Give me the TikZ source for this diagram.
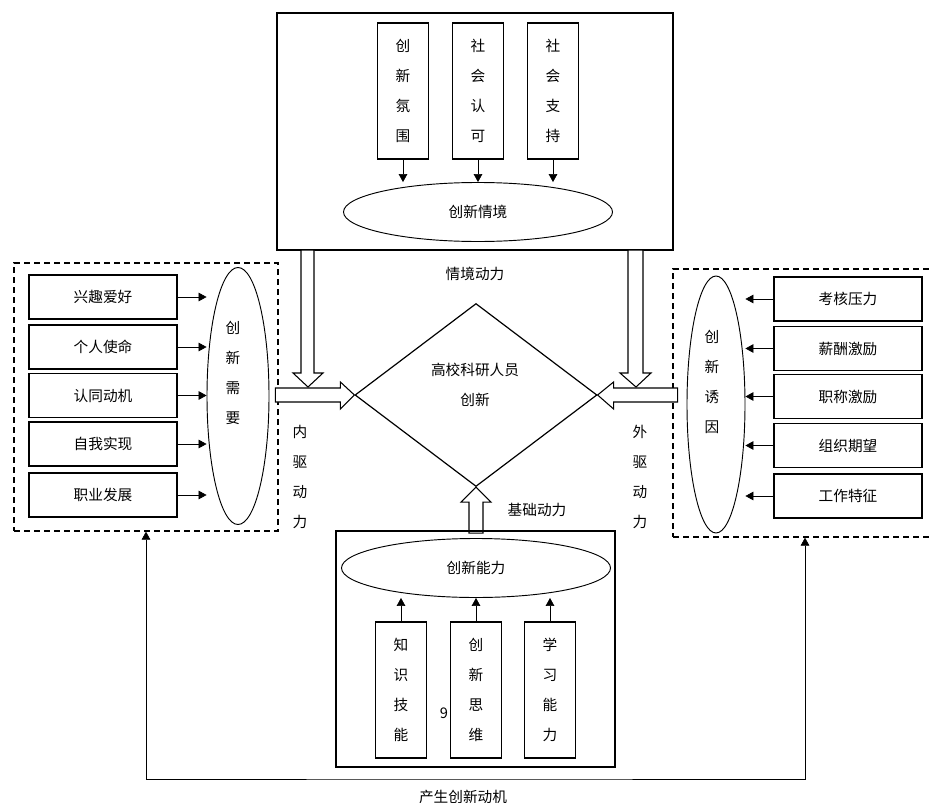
\documentclass[tikz,border=0pt]{standalone}
\usepackage{fontspec}
\setmainfont{Noto Sans CJK SC}
\usetikzlibrary{shapes.geometric,arrows.meta}

\tikzset{
  box/.style={draw,line width=0.9pt,minimum width=111pt,minimum height=33pt,inner sep=0pt},
  vbox/.style={draw,line width=0.9pt,minimum width=38.5pt,minimum height=102pt,inner sep=0pt,
    align=center,font=\fontsize{11}{22.5}\selectfont},
  oval/.style={draw,ellipse,line width=0.7pt,inner sep=0pt},
  vtext/.style={align=center,font=\fontsize{11}{22.5}\selectfont},
  arr/.style={-{Triangle[length=6pt,width=6.5pt]},line width=0.5pt},
  hollow/.style={draw,fill=white,line width=0.8pt},
  dashbox/.style={draw,line width=1pt,dash pattern=on 4.5pt off 3pt,
    minimum width=198pt,minimum height=201pt,inner sep=0pt}
}

\begin{document}
\begin{tikzpicture}[x=0.75pt,y=-0.75pt,font=\fontsize{11}{13}\selectfont]
\clip (0,0) rectangle (929,803);

% situation
\draw[line width=0.9pt] (277,13) rectangle (673,250);
\node[vbox] (c1) at (403,91) {创\\新\\氛\\围};
\node[vbox] (c2) at (478,91) {社\\会\\认\\可};
\node[vbox] (c3) at (553,91) {社\\会\\支\\持};
\node[oval,minimum width=201.75pt,minimum height=44.25pt] (sit) at (478,212) {创新情境};
\foreach \i in {1,2,3}
  \draw[arr] (c\i.south) -- (c\i.south |- sit.north);
\node (sitf) at (475,274) {情境动力};

% need
\node[dashbox] (inner) at (146,397) {};
\node[oval,minimum width=46.5pt,minimum height=192.75pt] (need) at (238,396) {};
\node[vtext] (needt) at (233,373) {创\\新\\需\\要};
\foreach \t/\y [count=\i] in {兴趣爱好/297,个人使命/347,认同动机/395.5,自我实现/444,职业发展/495}{
  \node[box] (b\i) at (103,\y) {\t};
  \draw[arr] (b\i.east) -- (b\i.east -| need.west);
}
\node[vtext] (innf) at (300,477) {内\\驱\\动\\力};

% lure
\node[dashbox] (outer) at (805,403) {};
\node[oval,minimum width=43.5pt,minimum height=192.75pt] (lure) at (716,404.5) {};
\node[vtext] (luret) at (712,382) {创\\新\\诱\\因};
\foreach \t/\y [count=\i] in {考核压力/299,薪酬激励/348.5,职称激励/396.5,组织期望/445.5,工作特征/496}{
  \node[box] (r\i) at (848,\y) {\t};
  \draw[arr] (r\i.west) -- (r\i.west -| lure.east);
}
\node[vtext] (outf) at (640,477) {外\\驱\\动\\力};

% core
\node[diamond,draw,line width=0.9pt,minimum width=181.5pt,minimum height=137.25pt,inner sep=0pt] (core) at (476,395) {};
\node[vtext] (coret) at (475,385) {高校科研人员\\创新};

\filldraw[hollow] (301,250) -- (301,373) -- (293,373) -- (308,387) -- (323,373) -- (314,373) -- (314,250) -- cycle;
\filldraw[hollow] (core.west) -- ++(-14,-13) -- ++(0,6) -- ++(-65,0) -- ++(0,14) -- ++(65,0) -- ++(0,7) -- cycle;
\filldraw[hollow] (628,250) -- (628,373) -- (620,373) -- (636,387) -- (651,373) -- (643,373) -- (643,250) -- cycle;
\filldraw[hollow] (core.east) -- ++(16,-13) -- ++(0,6) -- ++(64,0) -- ++(0,14) -- ++(-64,0) -- ++(0,7) -- cycle;
\filldraw[hollow] (core.south) -- ++(15,15) -- ++(-8,0) -- ++(0,31) -- ++(-14,0) -- ++(0,-31) -- ++(-8,0) -- cycle;
\node (basef) at (537,510) {基础动力};

% ability
\draw[line width=0.9pt] (336,531) rectangle (615,767);
\node[oval,minimum width=201.75pt,minimum height=44.25pt] (abl) at (476,568) {创新能力};
\node[vbox] (k1) at (401,690) {知\\识\\技\\能};
\node[vbox] (k2) at (476,690) {创\\新\\思\\维};
\node[vbox] (k3) at (550,690) {学\\习\\能\\力};
\foreach \i in {1,2,3}
  \draw[arr] (k\i.north) -- (k\i.north |- abl.south);
\node (nine) at (444,713) {9};

% motive
\coordinate (fb) at (463,779);
\draw[{Triangle[length=6pt,width=6.5pt]}-{Triangle[length=6pt,width=6.5pt]},line width=0.5pt]
  (inner.south) |- (fb) -| (outer.south);
\node (mot) at (463,797) {产生创新动机};

\end{tikzpicture}
\end{document}
